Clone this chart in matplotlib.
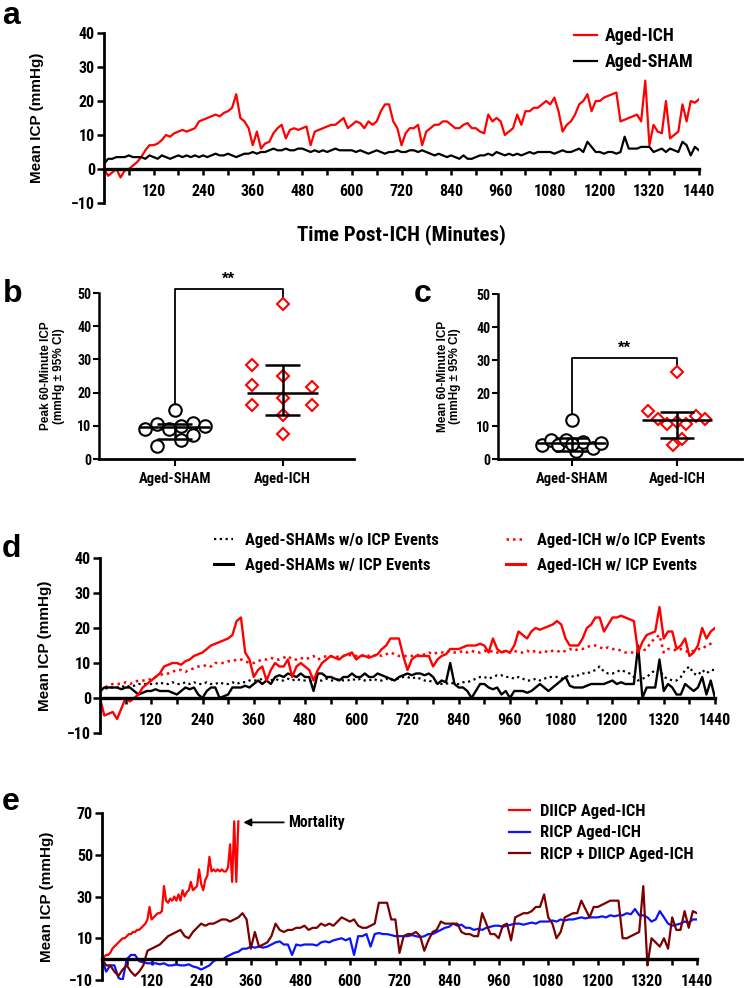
import numpy as np
import matplotlib.pyplot as plt
from matplotlib.lines import Line2D

plt.rcParams['font.family'] = ['Liberation Sans Narrow', 'Roboto Condensed',
                               'Liberation Sans', 'DejaVu Sans']
plt.rcParams['font.weight'] = 'bold'
WIDE = ['Liberation Sans', 'DejaVu Sans']

W, H = 749, 988

# ---------------- data ----------------
t10 = np.arange(0, 1441, 10)      # 10-minute grid
t_dead = np.arange(0, 331, 5)     # DIICP animal, died ~330 min

# panel a
a_ich = [0, -2, -1, 0, -2.5, -0.5, 0, 1, 2, 3.5, 5.5, 7,
         7, 7.5, 8.5, 10, 9.5, 10.5, 11, 11.5, 11, 11.5, 12, 14,
         14.5, 15, 15.5, 16, 15.5, 16.5, 17, 18, 22, 15, 14, 12,
         7, 11, 6, 7.5, 8, 10.5, 12, 13, 9, 11.5, 12, 11.5,
         12, 12.5, 7, 11, 11.5, 12, 12.5, 13, 13, 14, 15, 12,
         13, 14, 13.5, 12, 14, 13, 14, 17, 19, 19, 14, 12,
         7, 10.5, 12, 12, 13, 7, 11, 12, 13, 13, 14, 14,
         13, 12, 12, 13, 13.5, 12, 12, 11, 10.5, 16, 14, 15,
         14, 10, 11, 12, 16, 13, 17, 17, 18, 18, 19, 20,
         19, 21, 17, 11, 13, 14, 16, 19, 20, 22, 17, 20,
         20, 21, 21.5, 22, 22.5, 14, 14.5, 15, 15.5, 16, 14, 26,
         7, 13, 11, 10.5, 20, 9, 10, 11, 19, 14, 20, 19.5,
         20.5]
a_sham = [1.5, 3, 3, 3.5, 3.5, 3.5, 4, 3.5, 3.5, 3.5, 3, 4,
          3.5, 3, 4, 3.5, 3, 3.5, 4, 3.5, 4, 3.5, 4, 3.5,
          4, 3.5, 4, 4.5, 4, 4, 4.5, 4, 3.5, 4, 4.5, 4.5,
          5, 4.5, 5, 5, 5.5, 6, 5.5, 5.5, 6, 5.5, 5.5, 6,
          6, 5.5, 5, 5.5, 5, 5.5, 5, 5.5, 6, 5.5, 5.5, 5.5,
          5.5, 5, 5.5, 5, 4.5, 5, 5.5, 5, 4.5, 5, 5, 5.5,
          5, 5, 5.5, 5.5, 5, 5.5, 5, 4.5, 4, 4.5, 4, 3.5,
          4, 3.5, 3, 4, 3, 3, 3.5, 4, 4, 4.5, 4, 5,
          4.5, 4, 4.5, 4, 4.5, 4, 4.5, 5, 4.5, 5, 5, 5,
          5, 4.5, 5, 5.5, 5, 5, 5.5, 6, 5, 8, 6.5, 5,
          5, 4.5, 5, 5, 4.5, 5, 9.5, 6, 6, 6, 6.5, 6.5,
          6.5, 5, 5.5, 6, 5, 6, 5.5, 5, 8, 7, 4, 6.5,
          5.5]

# panel b (peak 60-min ICP) and c (mean 60-min ICP)
groups = ['Aged-SHAM', 'Aged-ICH']
b_sham = [14.9, 9.0, 10.6, 9.0, 10.0, 10.8, 10.0, 3.8, 5.8, 7.3]
b_sham_dx = [0, -0.27, -0.16, -0.05, 0.06, 0.17, 0.28, -0.16, 0.06, 0.17]
b_ich = [46.8, 28.4, 25.1, 22.4, 21.6, 18.4, 16.4, 16.4, 13.2, 7.6]
b_ich_dx = [0, -0.28, 0, -0.28, 0.27, 0, -0.28, 0.27, 0, 0]
b_mean = [9.7, 20.0]
b_lo = [6.0, 13.3]
b_hi = [10.6, 28.4]

c_sham = [11.7, 4.3, 5.8, 4.3, 5.8, 2.3, 5.3, 3.3, 4.8, 4.6]
c_sham_dx = [0, -0.28, -0.2, -0.13, -0.05, 0.04, 0.11, 0.2, 0.28, 0.0]
c_ich = [26.3, 14.4, 12.1, 10.7, 11.1, 10.7, 13.1, 12.1, 4.1, 6.1]
c_ich_dx = [0, -0.27, -0.18, -0.09, 0, 0.09, 0.18, 0.27, -0.04, 0.05]
c_mean = [4.8, 11.7]
c_lo = [2.5, 6.3]
c_hi = [6.3, 14.2]

# panel d
d_ich_ev = [0, -5, -4.5, -4, -6, -3, 0, -1, 0, 1, 3, 4,
            5, 6, 7, 9, 9.5, 10, 10, 9.5, 10.5, 11, 12, 12.5,
            13, 14, 15, 15.5, 16, 16.5, 17, 18, 22, 23, 13, 11,
            6, 8, 9, 5, 8, 10, 9, 9, 11, 6, 9, 10,
            9, 8, 5, 8, 10, 11, 12, 11.5, 11, 12, 12.5, 13,
            11, 12, 12, 11.5, 12, 12.5, 14, 15, 17, 17, 17, 12,
            8, 11, 12, 12, 12, 12, 9, 11, 12, 12.5, 14, 14,
            14, 14.5, 15, 15, 15, 15.5, 15, 13, 17, 14, 13, 13.5,
            13, 15, 19, 18, 17, 19, 20, 19.5, 20, 20.5, 21, 22,
            21, 17, 15, 15, 15, 17, 20, 21, 23, 23, 19, 21,
            23, 23, 23.5, 23, 22.5, 22, 13, 16, 18, 18.5, 19, 26,
            17, 19, 19, 14, 15, 17, 12, 13, 15, 20, 17, 19,
            20]
d_ich_no = [2, 3, 3.5, 4, 4, 4, 4.5, 4, 4.5, 5, 5, 5,
            5.5, 6, 6.5, 7, 7, 7.5, 8, 8, 7.5, 8, 8.5, 9,
            9, 9.5, 9, 10, 10, 10, 10.5, 10.5, 11, 11, 10.5, 10,
            10, 10.5, 11, 11, 11.5, 11, 11, 11.5, 12, 11, 11, 11.5,
            11, 11.5, 12, 11, 11.5, 12, 12, 11.5, 12, 12, 12.5, 12,
            12, 12, 12.5, 12, 12, 12.5, 12, 12.5, 13, 12.5, 12, 12,
            12, 12, 12.5, 12, 12.5, 13, 12.5, 13, 13, 13, 13.5, 13,
            13, 13.5, 13, 13.5, 13, 13, 13.5, 13, 13.5, 13, 13, 13.5,
            13, 13.5, 13, 13, 13.5, 13, 13.5, 13, 13.5, 13, 13.5, 13.5,
            13, 13.5, 14, 13.5, 14, 14, 14.5, 15, 15, 14.5, 14, 14.5,
            14, 14, 13.5, 13, 13, 13, 13, 13.5, 14, 16, 17, 18,
            13, 14, 14, 13.5, 14, 13.5, 13, 13.5, 14, 14, 15, 15.5,
            16]
d_sham_no = [2, 2.5, 3, 3, 3, 3.5, 3, 3.5, 3.5, 4, 4, 4,
             4, 4, 4.5, 4, 4, 4.5, 4, 4, 4.5, 4, 4.5, 4,
             4, 4.5, 4, 4, 4.5, 4, 4, 4.5, 4, 4.5, 4.5, 5,
             5, 5, 5.5, 5, 5, 5.5, 5, 5, 5.5, 5, 5.5, 5,
             5, 5, 5.5, 5, 5, 5.5, 5, 5, 5.5, 5, 5, 5.5,
             5, 5.5, 5, 5, 5.5, 5, 5, 5.5, 5, 5.5, 5.5, 6,
             6, 5.5, 6, 5.5, 5, 5, 4.5, 4.5, 4, 4, 4.5, 4,
             4, 4.5, 4.5, 5, 5.5, 6, 6, 5.5, 6, 6.5, 6.5, 6,
             6, 5.5, 6, 5.5, 5, 5, 5.5, 5, 5.5, 6, 6, 6,
             5.5, 6, 6.5, 6, 6.5, 7, 7, 7.5, 8, 9, 7.5, 7,
             7, 7.5, 8, 7.5, 7, 6, 5, 5.5, 6, 7, 8, 8,
             6, 5.5, 5, 5, 6, 8, 9, 7, 6.5, 8, 7, 8,
             8]
d_sham_ev = [2, 3, 3, 3, 3, 2.5, 3, 3, 2, 1, 1.5, 2,
             2, 2.5, 2, 2, 2, 1.5, 1, 2, 3, 2.5, 3, 1,
             0, 2, 3, 3, 0, 0.5, 1, 3, 3, 3, 3.5, 3,
             4, 5, 4, 5, 4, 6, 6.5, 6, 7, 6.5, 6, 7,
             6, 6, 2, 7, 7, 6, 6, 5.5, 5, 6, 6, 7,
             6, 6, 7, 6, 6, 7, 6.5, 6, 5.5, 5, 6, 6.5,
             7, 6.5, 7, 7, 6.5, 7, 6, 4, 5, 4.5, 10, 4,
             3, 3, 2, 0, 2, 4, 4, 3, 2.5, 3, 1, 2,
             0, 2, 2, 2, 1.5, 2, 3, 4, 3, 2, 3, 4,
             5, 6, 3.5, 3, 3, 3, 3.5, 4, 4, 4, 4, 4.5,
             5, 4, 4.5, 4, 4, 4, 15, 0, 3, 3, 3, 11,
             2, 4, 3, 1, 1, 4, 3, 2, 3, 6, 1, 5,
             0]

# panel e
e_diicp = [0, 1, 2, 2, 3, 5, 6, 7, 8, 9, 10, 10,
           11, 12, 12, 13, 13, 14, 14, 15, 16, 17, 19, 25,
           19, 20, 21, 22, 22, 23, 35, 28, 27, 29, 28, 30,
           28, 31, 28, 33, 30, 32, 33, 37, 33, 34, 35, 43,
           36, 33, 38, 40, 49, 42, 43, 42, 43, 42, 43, 42,
           42, 44, 55, 37, 66, 37, 66]
e_ricp = [0, -6, -3, -3, -9, -10, 0, 2, 2, -1, -1.5, -2,
          -2, -2, -2.5, -2, -3, -3, -2.5, -3, -3, -2.5, -3.5, -4,
          -5, -4, -3, -1, 0, -0.5, 1, 2, 3, 3.5, 5, 5,
          6, 5.5, 6, 5.5, 6, 7, 8, 8.5, 7, 7, 2, 7,
          6.5, 7, 7, 7, 6.5, 8, 8.5, 8, 9, 9.5, 10, 9,
          10, 2, 11, 11, 12, 6, 12, 12.5, 12, 12, 11.5, 11,
          11, 11, 11, 11.5, 11, 10.5, 11, 12, 12, 13, 14, 15,
          15.5, 17, 16, 16.5, 15, 15, 14, 14.5, 14, 15, 15.5, 16,
          16, 15.5, 16, 16.5, 17, 17, 16.5, 17, 17.5, 17, 18, 18,
          18, 18.5, 18, 19, 18.5, 19, 19, 19.5, 20, 19.5, 20, 20,
          20, 20.5, 20, 21, 20.5, 21, 21, 22, 21.5, 24, 21, 21,
          20, 18, 19, 23, 20, 17, 16, 16.5, 17, 18, 17.5, 19,
          19]
e_both = [0, -3, -3, -6, -8, -5, -3, -6, -8, -6, -3, 4,
          5, 6, 7, 9, 11, 12, 13, 14, 11, 10, 13, 15,
          17, 16, 17, 17, 18, 19, 19, 18, 19, 20, 22, 19,
          5, 13, 6, 7, 8, 11, 17, 14, 13, 14, 14, 15,
          15, 16, 14, 15, 15, 17, 16, 17, 16, 18, 20, 19,
          18, 19, 16, 15, 15, 16, 17, 27, 27, 27, 19, 19,
          3, 11, 12, 12, 13, 11, 4, 9, 13, 14, 18, 17,
          17, 17, 17, 13, 12, 12, 11, 11, 22, 17, 12, 12,
          10, 16, 17, 9, 20, 21, 22, 22, 23, 25, 25, 31,
          20, 17, 10, 13, 20, 21, 22, 22, 28, 24, 20, 25,
          25, 26, 27, 28, 28, 28, 10, 10, 11, 12, 13, 35,
          -3, 10, 8, 6, 10, 5, 20, 14, 14, 23, 15, 23,
          22]

RED = '#ff0000'
BLUE = '#0a14ff'
MAROON = '#7a0000'


def frac(left, top, right, bottom):
    return [left / W, 1 - bottom / H, (right - left) / W, (bottom - top) / H]


def time_axis(ax, ylim, yticks):
    ax.set_xlim(0, 1440)
    ax.set_ylim(*ylim)
    ax.set_yticks(yticks)
    ax.set_xticks(np.arange(120, 1441, 120))
    ax.set_xticks(np.arange(60, 1441, 120), minor=True)
    ax.spines['bottom'].set_position(('data', 0))
    ax.spines['top'].set_visible(False)
    ax.spines['right'].set_visible(False)
    ax.spines['left'].set_linewidth(2.0)
    ax.spines['bottom'].set_linewidth(2.4)
    ax.tick_params(axis='y', length=5, width=1.8, labelsize=11.5, pad=1.5)
    ax.tick_params(axis='x', which='both', length=4.5, width=1.8, labelsize=11.5, pad=6)
    ax.set_ylabel('Mean ICP (mmHg)', family=WIDE, fontsize=11, fontweight='bold')


def dot_panel(ax, sham, sham_dx, ich, ich_dx, mean, lo, hi, bracket, ylabel, xmax):
    ax.plot(np.array(sham_dx), sham, 'o', ms=9, mfc='white', mec='black', mew=1.5,
            zorder=3, clip_on=False)
    ax.plot(1 + np.array(ich_dx), ich, 'D', ms=6.3, mfc='white', mec=RED, mew=1.5,
            zorder=3, clip_on=False)
    for i in range(2):
        ax.hlines(mean[i], i - 0.33, i + 0.33, color='black', lw=1.8, zorder=4)
        ax.vlines(i, lo[i], hi[i], color='black', lw=1.8, zorder=4)
        ax.hlines([lo[i], hi[i]], i - 0.16, i + 0.16, color='black', lw=1.8, zorder=4)
    top, left_end, right_end = bracket
    ax.plot([0, 0, 1, 1], [left_end, top, top, right_end], color='black', lw=1.3,
            clip_on=False, zorder=2)
    ax.text(0.5, top + 0.8, '**', ha='center', va='bottom', fontsize=12,
            family=WIDE, fontweight='bold')
    ax.set_xlim(-0.7, xmax)
    ax.set_ylim(0, 50)
    ax.set_yticks(range(0, 51, 10))
    ax.set_xticks([0, 1])
    ax.set_xticklabels(groups)
    for s in ['top', 'right']:
        ax.spines[s].set_visible(False)
    ax.spines['left'].set_linewidth(1.8)
    ax.spines['bottom'].set_linewidth(2.0)
    ax.tick_params(axis='y', length=4, width=1.5, labelsize=10, pad=1.5)
    ax.tick_params(axis='x', length=5, width=1.5, labelsize=10.5, pad=4)
    ax.set_ylabel(ylabel, family=WIDE, fontsize=8.5, fontweight='bold', linespacing=1.1)


fig = plt.figure(figsize=(W / 100, H / 100), dpi=100)

# ---------------- a ----------------
ax_a = fig.add_axes(frac(104, 33, 699, 203))
ax_a.plot(t10, a_ich, color=RED, lw=1.6, label='Aged-ICH')
ax_a.plot(t10, a_sham, color='black', lw=1.6, label='Aged-SHAM')
time_axis(ax_a, (-10, 40), range(-10, 41, 10))
ax_a.yaxis.set_label_coords(-0.1, 0.5)
ax_a.set_xlabel('Time Post-ICH (Minutes)', fontsize=15, fontweight='bold')
ax_a.xaxis.set_label_coords(0.5, -0.125)
ax_a.legend(loc='upper left', bbox_to_anchor=(574 / W, 1 - 27 / H),
            bbox_transform=fig.transFigure, frameon=False, borderpad=0,
            borderaxespad=0, handlelength=1.25, handletextpad=0.45,
            labelspacing=0.45, fontsize=13)

# ---------------- b, c ----------------
ax_b = fig.add_axes(frac(99, 293, 354, 459))
dot_panel(ax_b, b_sham, b_sham_dx, b_ich, b_ich_dx, b_mean, b_lo, b_hi,
          (51.2, 16.4, 48.4), 'Peak 60-Minute ICP\n(mmHg \u00b1 95% CI)', 1.66)
ax_b.yaxis.set_label_coords(-0.135, 0.5)

ax_c = fig.add_axes(frac(498, 294, 742, 459))
dot_panel(ax_c, c_sham, c_sham_dx, c_ich, c_ich_dx, c_mean, c_lo, c_hi,
          (30.6, 13.3, 27.9), 'Mean 60-Minute ICP\n(mmHg \u00b1 95% CI)', 1.62)
ax_c.yaxis.set_label_coords(-0.15, 0.5)

# ---------------- d ----------------
ax_d = fig.add_axes(frac(100, 558, 715, 733))
ax_d.plot(t10, d_sham_no, color='black', lw=1.6, ls=(0, (1, 1.6)))
ax_d.plot(t10, d_ich_no, color=RED, lw=1.8, ls=(0, (1, 1.6)))
ax_d.plot(t10, d_sham_ev, color='black', lw=1.7)
ax_d.plot(t10, d_ich_ev, color=RED, lw=1.7)
time_axis(ax_d, (-10, 40), range(-10, 41, 10))
ax_d.yaxis.set_label_coords(-0.078, 0.5)

leg_kw = dict(loc='upper left', bbox_transform=fig.transFigure, frameon=False,
              borderpad=0, borderaxespad=0, handlelength=1.15, handletextpad=0.7,
              labelspacing=0.58, fontsize=12)
sham_leg = ax_d.legend([Line2D([], [], color='black', lw=1.6, ls=(0, (1, 1.6))),
                        Line2D([], [], color='black', lw=2.2)],
                       ['Aged-SHAMs w/o ICP Events', 'Aged-SHAMs w/ ICP Events'],
                       bbox_to_anchor=(214 / W, 1 - 533 / H), **leg_kw)
ax_d.add_artist(sham_leg)
ax_d.legend([Line2D([], [], color=RED, lw=1.8, ls=(0, (1, 1.6))),
             Line2D([], [], color=RED, lw=2.2)],
            ['Aged-ICH w/o ICP Events', 'Aged-ICH w/ ICP Events'],
            bbox_to_anchor=(506 / W, 1 - 533 / H), **leg_kw)

# ---------------- e ----------------
ax_e = fig.add_axes(frac(102, 813, 697, 980))
ax_e.plot(t_dead, e_diicp, color=RED, lw=1.6, label='DIICP Aged-ICH')
ax_e.plot(t10, e_ricp, color=BLUE, lw=1.6, label='RICP Aged-ICH')
ax_e.plot(t10, e_both, color=MAROON, lw=1.6, label='RICP + DIICP Aged-ICH')
time_axis(ax_e, (-10, 70), range(-10, 71, 20))
ax_e.yaxis.set_label_coords(-0.08, 0.5)
ax_e.annotate('Mortality', xy=(342, 65.5), xytext=(450, 65.5), va='center', ha='left',
              fontsize=11.3, fontweight='bold',
              arrowprops=dict(arrowstyle='-|>', color='black', lw=1.3,
                              mutation_scale=11, shrinkA=1, shrinkB=0))
ax_e.legend(loc='upper left', bbox_to_anchor=(509 / W, 1 - 804 / H),
            bbox_transform=fig.transFigure, frameon=False, borderpad=0,
            borderaxespad=0, handlelength=1.25, handletextpad=0.6,
            labelspacing=0.38, fontsize=12)

# panel letters
for letter, x, y in [('a', 2, 24), ('b', 3, 302), ('c', 414, 302),
                     ('d', 2, 557), ('e', 2, 810)]:
    fig.text(x / W, 1 - y / H, letter, fontsize=23, fontweight='bold',
             family=WIDE, va='baseline', ha='left')

fig.savefig('out.png', dpi=100)
